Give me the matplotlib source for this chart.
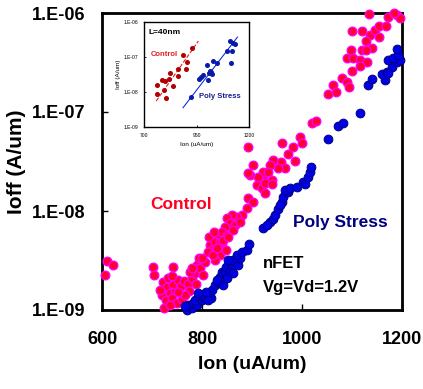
import matplotlib
matplotlib.use("Agg")
import matplotlib.pyplot as plt
from matplotlib.ticker import FixedLocator, FixedFormatter

plt.rcParams['font.family'] = ['Liberation Sans', 'DejaVu Sans']
plt.rcParams['font.weight'] = 'bold'

# ---------------- main data ----------------
ctrl_ion = [610, 622, 606, 702, 704, 742, 722, 730, 724, 720, 728, 736, 740, 746, 750, 742, 752, 758, 764, 772,
            774, 760, 732, 740, 766, 780, 786, 776, 790, 796, 794, 806, 802, 788, 816, 814, 820, 832, 840, 836,
            848, 826, 824, 812, 822, 800, 780, 752, 716, 736,
            896, 922, 940, 910, 920, 926, 892, 902, 890, 880, 870, 860, 850, 856, 846, 866, 876, 840, 850, 826,
            836, 830, 842, 862, 852,
            892, 960, 982, 996, 1000, 972, 986, 1020, 1028, 958, 942, 936, 966, 902, 922, 932, 912, 926, 940, 892,
            952,
            1134, 1172, 1190, 1196, 1100, 1120, 1136, 1146, 1154, 1168, 1154, 1128, 1120, 1140, 1128, 1098, 1090,
            1102, 1116, 1130, 1116, 1100, 1080, 1090, 1094, 1062, 1068, 1052, 1184]
ctrl_ioff = [3.13e-9, 2.85e-9, 2.26e-9, 2.72e-9, 2.26e-9, 2.72e-9, 1.92e-9, 1.71e-9, 1.04e-9, 1.42e-9,
             1.26e-9, 1.48e-9, 1.32e-9, 1.59e-9, 1.17e-9, 1.83e-9, 2.01e-9, 1.75e-9, 1.96e-9, 1.83e-9,
             1.55e-9, 1.29e-9, 2.10e-9, 2.20e-9, 1.42e-9, 2.10e-9, 2.37e-9, 2.42e-9, 2.85e-9, 2.66e-9,
             3.35e-9, 3.05e-9, 2.26e-9, 1.83e-9, 4.53e-9, 5.46e-9, 4.04e-9, 5.46e-9, 4.75e-9, 3.59e-9,
             4.04e-9, 3.20e-9, 6.14e-9, 3.85e-9, 3.59e-9, 3.35e-9, 2.66e-9, 1.52e-9, 1.59e-9, 1.12e-9,
             2.31e-8, 2.15e-8, 2.06e-8, 1.83e-8, 1.71e-8, 1.52e-8, 1.35e-8, 1.23e-8, 1.07e-8, 9.11e-9,
             8.70e-9, 9.11e-9, 8.50e-9, 7.56e-9, 6.89e-9, 7.22e-9, 7.74e-9, 6.14e-9, 5.72e-9, 4.86e-9,
             4.86e-9, 4.23e-9, 5.09e-9, 6.43e-9, 5.46e-9,
             4.43e-8, 4.86e-8, 4.43e-8, 5.59e-8, 4.86e-8, 3.76e-8, 3.20e-8, 7.74e-8, 8.11e-8, 3.13e-8,
             3.27e-8, 2.92e-8, 2.72e-8, 2.92e-8, 2.48e-8, 2.48e-8, 2.20e-8, 1.92e-8, 1.87e-8, 2.42e-8,
             2.72e-8,
             9.77e-7, 9.11e-7, 9.54e-7, 8.90e-7, 6.58e-7, 6.58e-7, 5.99e-7, 6.73e-7, 7.39e-7, 7.39e-7,
             5.72e-7, 5.21e-7, 4.23e-7, 4.43e-7, 4.23e-7, 4.23e-7, 3.51e-7, 3.51e-7, 3.35e-7, 3.20e-7,
             2.92e-7, 2.60e-7, 2.20e-7, 2.01e-7, 1.79e-7, 1.87e-7, 1.59e-7, 1.52e-7, 1.0e-6]

poly_ion = [770, 780, 772, 782, 790, 786, 796, 800, 802, 806, 812, 818, 820, 812, 826, 832, 842, 836, 842, 840,
            846, 852, 848, 856, 860, 862, 872, 876, 870, 880, 890, 894, 856, 862, 850, 830, 852, 792, 766, 808,
            922, 936, 942, 946, 952, 960, 962, 972, 966, 976, 990, 1002, 1006, 1012, 1016, 1018, 1052, 1072,
            1082, 1116, 930, 956,
            1132, 1140, 1166, 1160, 1170, 1180, 1190, 1196, 1172, 1182, 1192, 1190, 1172]
poly_ioff = [1.0e-9, 1.04e-9, 1.12e-9, 1.17e-9, 1.12e-9, 1.26e-9, 1.32e-9, 1.26e-9, 1.35e-9, 1.35e-9,
             1.42e-9, 1.32e-9, 1.59e-9, 1.26e-9, 1.79e-9, 1.92e-9, 1.79e-9, 2.15e-9, 2.10e-9, 2.42e-9,
             2.42e-9, 2.66e-9, 2.72e-9, 3.05e-9, 2.72e-9, 3.20e-9, 2.85e-9, 3.35e-9, 3.59e-9, 3.85e-9,
             4.04e-9, 4.64e-9, 2.42e-9, 2.37e-9, 2.10e-9, 2.01e-9, 3.20e-9, 1.48e-9, 1.09e-9, 1.52e-9,
             6.73e-9, 7.74e-9, 8.30e-9, 9.11e-9, 1.04e-8, 1.23e-8, 1.38e-8, 1.55e-8, 1.63e-8, 1.71e-8,
             1.75e-8, 1.96e-8, 1.87e-8, 2.20e-8, 2.48e-8, 2.78e-8, 5.34e-8, 7.22e-8, 7.74e-8, 9.77e-8,
             7.22e-9, 1.15e-8,
             1.87e-7, 2.15e-7, 2.10e-7, 2.42e-7, 2.54e-7, 2.85e-7, 3.20e-7, 3.35e-7, 3.35e-7, 3.51e-7,
             3.76e-7, 4.33e-7, 2.48e-7]

x_ticks = [600, 800, 1000, 1200]
y_ticks = [1e-9, 1e-8, 1e-7, 1e-6]
y_tick_labels = ["1.E-09", "1.E-08", "1.E-07", "1.E-06"]

# ---------------- inset data ----------------
in_ctrl_ion = [760, 760, 785, 800, 795, 803, 821, 822, 838, 861, 864, 888, 899, 904, 928]
in_ctrl_ioff = [1.58e-8, 8.5e-9, 2.14e-8, 2.09e-8, 1.17e-8, 6.6e-9, 2.34e-8, 3.47e-8, 1.51e-8, 2.88e-8,
                4.68e-8, 1.15e-7, 4.68e-8, 7.41e-8, 1.78e-7]
in_poly_ion = [925, 960, 972, 983, 1001, 1007, 1009, 1012, 1017, 1022, 1028, 1046, 1097, 1110, 1112, 1120,
               1123, 1134]
in_poly_ioff = [7.2e-9, 2.3e-8, 2.6e-8, 3.0e-8, 5.8e-8, 2.2e-8, 3.6e-8, 4.1e-8, 3.7e-8, 3.3e-8, 7.9e-8,
                6.8e-8, 1.45e-7, 2.9e-7, 6.8e-8, 1.5e-7, 2.5e-7, 2.4e-7]
in_ctrl_fit_ion = [758, 959]
in_ctrl_fit_ioff = [5.5e-9, 2.86e-7]
in_poly_fit_ion = [886, 1145]
in_poly_fit_ioff = [3.56e-9, 3.7e-7]
in_x_ticks = [700, 950, 1200]

# ---------------- figure ----------------
fig = plt.figure(figsize=(4.23, 3.89), dpi=100)
ax = fig.add_axes([102 / 423, 1 - 310 / 389, 300 / 423, 297 / 389])

ax.plot(ctrl_ion, ctrl_ioff, 'o', ms=6.3, mfc='#FF0033', mec='#FF00FF', mew=0.9,
        clip_on=False, zorder=3)
ax.plot(poly_ion, poly_ioff, 'o', ms=6.3, mfc='#0000E6', mec='#000080', mew=0.7,
        clip_on=False, zorder=4)

ax.set_yscale('log')
ax.set_xlim(600, 1200)
ax.set_ylim(1e-9, 1e-6)
ax.xaxis.set_major_locator(FixedLocator(x_ticks))
ax.yaxis.set_major_locator(FixedLocator(y_ticks))
ax.yaxis.set_major_formatter(FixedFormatter(y_tick_labels))
ax.yaxis.set_minor_locator(FixedLocator([]))
ax.tick_params(axis='both', which='major', direction='in', length=4.5, width=1.0,
               labelsize=13)
ax.tick_params(axis='y', pad=12)
ax.tick_params(axis='x', pad=15)
for lab in ax.get_xticklabels() + ax.get_yticklabels():
    lab.set_fontweight('bold')
for s in ax.spines.values():
    s.set_linewidth(2.0)

ax.set_xlabel("Ion (uA/um)", fontsize=14, fontweight='bold', labelpad=6)
ax.set_ylabel("Ioff (A/um)", fontsize=15, fontweight='bold', labelpad=4)

ax.text(0.263, 0.354, "Control", transform=ax.transAxes, color='#FF0022', fontsize=12.5,
        fontweight='bold', ha='center', va='center')
ax.text(0.793, 0.296, "Poly Stress", transform=ax.transAxes, color='#000080', fontsize=12.5,
        fontweight='bold', ha='center', va='center')
ax.text(0.537, 0.158, "nFET", transform=ax.transAxes, color='black', fontsize=12,
        fontweight='bold', ha='left', va='center')
ax.text(0.537, 0.077, "Vg=Vd=1.2V", transform=ax.transAxes, color='black', fontsize=12,
        fontweight='bold', ha='left', va='center')

# ---------------- inset ----------------
ins = fig.add_axes([144 / 423, 1 - 127 / 389, 105 / 423, 105 / 389])
ins.plot(in_ctrl_fit_ion, in_ctrl_fit_ioff, '--', color='#E02020', lw=0.8)
ins.plot(in_poly_fit_ion, in_poly_fit_ioff, '-', color='#1030E0', lw=0.8)
ins.plot(in_ctrl_ion, in_ctrl_ioff, 'o', ms=2.6, color='#B00000', mec='#B00000')
ins.plot(in_poly_ion, in_poly_ioff, 'o', ms=2.6, color='#0A1AA8', mec='#0A1AA8')
ins.set_yscale('log')
ins.set_xlim(700, 1200)
ins.set_ylim(1e-9, 1e-6)
ins.xaxis.set_major_locator(FixedLocator(in_x_ticks))
ins.yaxis.set_major_locator(FixedLocator(y_ticks))
ins.yaxis.set_major_formatter(FixedFormatter(y_tick_labels))
ins.yaxis.set_minor_locator(FixedLocator([]))
ins.tick_params(axis='both', which='major', direction='in', length=1.5, width=0.6,
                labelsize=3.6, pad=4)
for lab in ins.get_xticklabels() + ins.get_yticklabels():
    lab.set_fontweight('normal')
for s in ins.spines.values():
    s.set_linewidth(1.0)
ins.set_xlabel("Ion (uA/um)", fontsize=4.6, fontweight='normal', labelpad=3)
ins.set_ylabel("Ioff (A/um)", fontsize=4.6, fontweight='normal', labelpad=2)
ins.text(0.04, 0.898, "L=40nm", transform=ins.transAxes, fontsize=6, fontweight='bold',
         ha='left', va='center', color='black')
ins.text(0.06, 0.692, "Control", transform=ins.transAxes, fontsize=5.5, fontweight='bold',
         ha='left', va='center', color='#E02020')
ins.text(0.52, 0.292, "Poly Stress", transform=ins.transAxes, fontsize=5.5, fontweight='bold',
         ha='left', va='center', color='#1A1A8C')

fig.savefig("out.png", dpi=100)
